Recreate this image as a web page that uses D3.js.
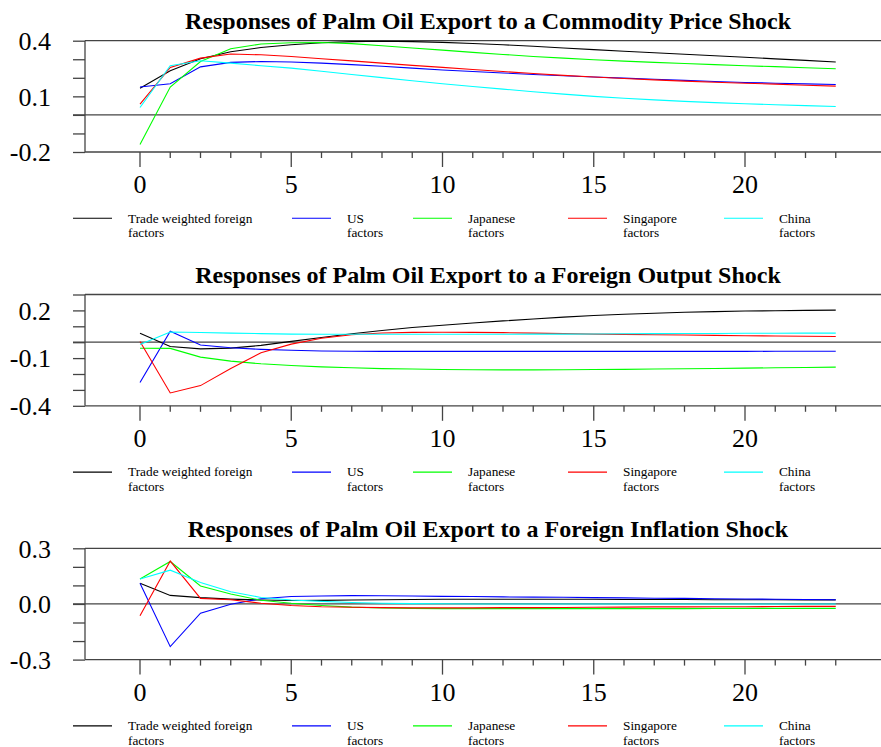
<!DOCTYPE html>
<html>
<head>
<meta charset="utf-8">
<script src="https://cdn.jsdelivr.net/npm/d3@7"></script>
<style>
  body { margin: 0; background: #fff; }
  svg { font-family: "Liberation Serif", "Times New Roman", serif; }
</style>
</head>
<body>
<div id="chart"></div>
<script>
// impulse responses, horizons 0..23
const PERIODS = d3.range(0, 24);

const SERIES = ["Trade weighted foreign", "US", "Japanese", "Singapore", "China"];
const COLORS = ["#000000", "#0000ff", "#00ff00", "#ff0000", "#00ffff"];

const TITLES = [
  "Responses of Palm Oil Export to a Commodity Price Shock",
  "Responses of Palm Oil Export to a Foreign Output Shock",
  "Responses of Palm Oil Export to a Foreign Inflation Shock"
];
const Y_DOMAINS = [[-0.2, 0.4], [-0.4, 0.3], [-0.3, 0.3]];
const Y_LABELS = [[0.4, 0.1, -0.2], [0.2, -0.1, -0.4], [0.3, 0.0, -0.3]];
const X_LABELS = [0, 5, 10, 15, 20];

// commodity price shock
const commodityTrade = [0.144, 0.238, 0.303, 0.34, 0.363, 0.378, 0.389, 0.395, 0.397, 0.395, 0.391, 0.385, 0.378, 0.37, 0.361, 0.352, 0.343, 0.335, 0.327, 0.319, 0.311, 0.302, 0.294, 0.285];
const commodityUS = [0.15, 0.168, 0.259, 0.283, 0.288, 0.285, 0.279, 0.271, 0.262, 0.252, 0.242, 0.234, 0.226, 0.218, 0.211, 0.204, 0.198, 0.192, 0.186, 0.18, 0.175, 0.171, 0.167, 0.164];
const commodityJapan = [-0.159, 0.15, 0.288, 0.357, 0.382, 0.389, 0.39, 0.384, 0.373, 0.361, 0.349, 0.337, 0.326, 0.315, 0.306, 0.297, 0.29, 0.283, 0.277, 0.271, 0.265, 0.26, 0.254, 0.249];
const commoditySingapore = [0.058, 0.256, 0.306, 0.328, 0.324, 0.315, 0.303, 0.291, 0.279, 0.267, 0.256, 0.245, 0.234, 0.223, 0.213, 0.204, 0.196, 0.189, 0.182, 0.176, 0.171, 0.166, 0.16, 0.155];
const commodityChina = [0.04, 0.265, 0.292, 0.279, 0.265, 0.252, 0.235, 0.218, 0.201, 0.184, 0.168, 0.153, 0.139, 0.125, 0.112, 0.1, 0.09, 0.081, 0.073, 0.066, 0.06, 0.055, 0.05, 0.045];

// foreign output shock
const outputTrade = [0.057, -0.027, -0.042, -0.037, -0.02, 0.005, 0.03, 0.053, 0.074, 0.092, 0.107, 0.121, 0.134, 0.146, 0.158, 0.168, 0.176, 0.182, 0.188, 0.192, 0.196, 0.198, 0.2, 0.202];
const outputUS = [-0.253, 0.069, -0.018, -0.035, -0.045, -0.051, -0.055, -0.057, -0.058, -0.058, -0.058, -0.058, -0.058, -0.058, -0.058, -0.058, -0.058, -0.058, -0.058, -0.058, -0.058, -0.057, -0.057, -0.057];
const outputJapan = [-0.038, -0.039, -0.094, -0.119, -0.136, -0.147, -0.155, -0.161, -0.166, -0.169, -0.172, -0.173, -0.174, -0.174, -0.173, -0.172, -0.171, -0.169, -0.167, -0.165, -0.163, -0.161, -0.159, -0.157];
const outputSingapore = [0.004, -0.319, -0.273, -0.166, -0.066, -0.012, 0.025, 0.047, 0.058, 0.062, 0.063, 0.062, 0.06, 0.057, 0.054, 0.051, 0.049, 0.047, 0.045, 0.043, 0.041, 0.039, 0.037, 0.036];
const outputChina = [-0.015, 0.064, 0.061, 0.057, 0.054, 0.051, 0.05, 0.05, 0.05, 0.05, 0.05, 0.05, 0.05, 0.051, 0.051, 0.052, 0.053, 0.054, 0.055, 0.055, 0.056, 0.056, 0.057, 0.057];

// foreign inflation shock
const inflationTrade = [0.112, 0.046, 0.034, 0.026, 0.021, 0.019, 0.019, 0.021, 0.023, 0.024, 0.025, 0.025, 0.025, 0.025, 0.025, 0.025, 0.024, 0.024, 0.024, 0.023, 0.023, 0.023, 0.022, 0.022];
const inflationUS = [0.112, -0.23, -0.05, -0.002, 0.028, 0.04, 0.043, 0.045, 0.044, 0.043, 0.041, 0.04, 0.038, 0.037, 0.036, 0.034, 0.033, 0.031, 0.03, 0.028, 0.027, 0.025, 0.024, 0.023];
const inflationJapan = [0.135, 0.229, 0.097, 0.054, 0.02, 0.004, -0.008, -0.017, -0.022, -0.024, -0.025, -0.025, -0.025, -0.025, -0.025, -0.025, -0.025, -0.025, -0.025, -0.024, -0.024, -0.024, -0.024, -0.024];
const inflationSingapore = [-0.064, 0.231, 0.03, 0.023, 0.004, -0.008, -0.015, -0.018, -0.02, -0.021, -0.021, -0.021, -0.02, -0.02, -0.019, -0.018, -0.017, -0.016, -0.016, -0.015, -0.015, -0.014, -0.013, -0.013];
const inflationChina = [0.135, 0.182, 0.116, 0.066, 0.035, 0.021, 0.014, 0.008, 0.004, 0.002, 0.001, 0, 0, 0, 0, 0, 0, 0, 0, 0, 0, 0, 0, 0];

const PANELS = [
  [commodityTrade, commodityUS, commodityJapan, commoditySingapore, commodityChina],
  [outputTrade, outputUS, outputJapan, outputSingapore, outputChina],
  [inflationTrade, inflationUS, inflationJapan, inflationSingapore, inflationChina]
];

const width = 881, height = 747;
const panelStep = 253.8;
const plotTop = 40.7, plotHeight = 111.3;
const axisX = 85, tickLeft = 73;
const axisColor = "#444";
const legendX = [73, 292, 413, 568, 724];
const serif = "'Liberation Serif', 'Times New Roman', serif";

const svg = d3.select("#chart").append("svg")
  .attr("width", width)
  .attr("height", height);

const x = d3.scaleLinear().domain([0, 23]).range([140, 835.75]);

PANELS.forEach((series, p) => {
  const g = svg.append("g").attr("transform", `translate(0,${plotTop + p * panelStep})`);
  const y = d3.scaleLinear().domain(Y_DOMAINS[p]).range([plotHeight, 0]);
  const [lo, hi] = Y_DOMAINS[p];
  const yTicks = d3.range(Math.round(lo * 10), Math.round(hi * 10) + 1).map(d => d / 10);

  // title
  g.append("text")
    .attr("x", 488)
    .attr("y", -11.5)
    .attr("text-anchor", "middle")
    .style("font-family", serif)
    .style("font-size", "24px")
    .style("font-weight", "bold")
    .text(TITLES[p]);

  // y axis ticks + labels
  const yAxis = d3.axisLeft(y)
    .tickValues(yTicks)
    .tickSize(12)
    .tickSizeOuter(0)
    .tickPadding(22)
    .tickFormat(d => Y_LABELS[p].some(v => Math.abs(v - d) < 1e-9) ? d.toFixed(1) : "");
  const ya = g.append("g").attr("transform", `translate(${axisX},0)`).call(yAxis);
  ya.attr("font-family", null).attr("font-size", null);
  ya.select(".domain").remove();
  ya.selectAll("line").attr("stroke", axisColor).attr("stroke-width", 1.3);
  ya.selectAll("text")
    .attr("fill", "#000")
    .attr("dy", "0.34em")
    .style("font-family", serif)
    .style("font-size", "26px");

  // frame: left, top, bottom, zero line
  g.append("line").attr("x1", axisX).attr("x2", axisX).attr("y1", 0).attr("y2", plotHeight)
    .attr("stroke", axisColor).attr("stroke-width", 1.3);
  g.append("line").attr("x1", axisX).attr("x2", width).attr("y1", 0).attr("y2", 0)
    .attr("stroke", axisColor).attr("stroke-width", 1.3);
  g.append("line").attr("x1", axisX).attr("x2", width).attr("y1", plotHeight).attr("y2", plotHeight)
    .attr("stroke", axisColor).attr("stroke-width", 1.3);
  g.append("line").attr("x1", tickLeft).attr("x2", width).attr("y1", y(0)).attr("y2", y(0))
    .attr("stroke", axisColor).attr("stroke-width", 1.2);

  // x axis ticks
  const xa = g.append("g").attr("transform", `translate(0,${plotHeight})`);
  xa.selectAll("line")
    .data(PERIODS)
    .join("line")
    .attr("x1", d => x(d)).attr("x2", d => x(d))
    .attr("y1", 0)
    .attr("y2", d => X_LABELS.includes(d) ? 15 : 6)
    .attr("stroke", axisColor)
    .attr("stroke-width", 1.3);
  xa.selectAll("text")
    .data(X_LABELS)
    .join("text")
    .attr("x", d => x(d))
    .attr("y", 41)
    .attr("text-anchor", "middle")
    .style("font-family", serif)
    .style("font-size", "26px")
    .text(d => d);

  // response lines
  const line = d3.line().x((d, i) => x(PERIODS[i])).y(d => y(d));
  g.selectAll("path.resp")
    .data(series)
    .join("path")
    .attr("class", "resp")
    .attr("d", d => line(d))
    .attr("fill", "none")
    .attr("stroke", (d, i) => COLORS[i])
    .attr("stroke-width", 1.1);

  // legend
  const lg = g.append("g").attr("transform", `translate(0,${177.6})`);
  SERIES.forEach((name, i) => {
    const item = lg.append("g").attr("transform", `translate(${legendX[i]},0)`);
    item.append("line")
      .attr("x1", 0).attr("x2", 39).attr("y1", 0).attr("y2", 0)
      .attr("stroke", COLORS[i]).attr("stroke-width", 1.1);
    const t = item.append("text")
      .attr("x", 55)
      .attr("y", 4.2)
      .style("font-family", serif)
      .style("font-size", "13.3px");
    t.append("tspan").attr("x", 55).text(name);
    t.append("tspan").attr("x", 55).attr("dy", 14.5).text("factors");
  });
});
</script>
</body>
</html>
